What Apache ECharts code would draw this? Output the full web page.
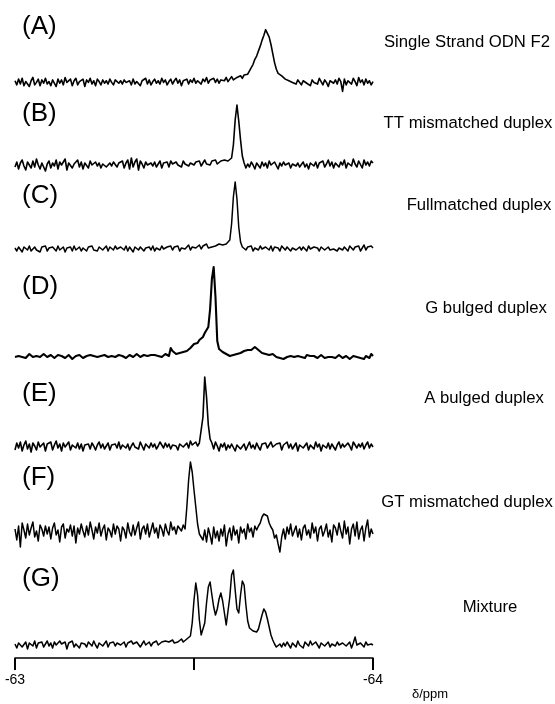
<!DOCTYPE html>
<html>
<head>
<meta charset="utf-8">
<script src="https://cdn.jsdelivr.net/npm/echarts@6/dist/echarts.min.js"></script>
<style>
  html, body { margin: 0; padding: 0; background: #fff; }
  #chart { width: 555px; height: 704px; }
</style>
</head>
<body>
<div id="chart"></div>
<script>
// 19F NMR spectra, sampled every 0.005 ppm from -63 to -64 ppm
var ppmStart = -63;
var ppmStep = 0.005;

var panelTags = ['(A)', '(B)', '(C)', '(D)', '(E)', '(F)', '(G)'];
var sampleNames = ['Single Strand ODN F2', 'TT mismatched duplex', 'Fullmatched duplex',
    'G bulged duplex', 'A bulged duplex', 'GT mismatched duplex', 'Mixture'];

var axisTicks = [-63, -63.5, -64];
var axisTickText = ['-63', '', '-64'];
var axisName = 'δ/ppm';

// intensities (arbitrary units, baseline = 0)
var specA = [
    2, -3, 4, -2, 5, -4, 1, 3, -5, 2, 6, -3, 0, 4, -4, 3, -1, 5, -2, 1,
    -4, 3, 2, -5, 4, -1, 3, -3, 6, 0, -2, 4, -4, 2, 5, -3, 1, -1, 4, -5,
    3, 0, 5, -2, 2, -4, 4, 1, -3, 3, -1, 2, -2, 4, 0, -3, 3, 1, -1, 2,
    -2, 3, 0, -1, 2, -3, 4, -2, 1, 3, -4, 2, 0, 5, -2, 3, -3, 1, 4, -1,
    2, -2, 5, 0, 3, -3, 1, 4, -2, 2, 5, -1, 3, -4, 2, 1, 4, -2, 3, 0,
    5, -1, 2, 3, -2, 4, 1, 6, -1, 3, 2, 5, 0, 4, -1, 3, 5, 2, 6, 1,
    4, 7, 3, 5, 6, 4, 8, 5, 9, 7, 10, 14, 18, 22, 28, 32, 38, 44, 51, 57,
    64, 62, 55, 46, 35, 24, 16, 11, 9, 8, 6, 4, 5, 2, 3, 0, 2, -2, 3, 1,
    -3, 2, 4, -1, 1, -4, 3, 0, 2, -2, 5, 1, -3, 3, 0, -5, 2, 4, -1, 3,
    -2, 5, 1, -11, 4, -3, 2, 3, -2, 5, 1, -4, 6, 0, 3, -3, 4, -1, 2, -3,
    1
];
var specB = [
    -2, 3, -4, 2, 5, -1, -5, 3, 1, -3, 4, -2, 6, 0, -4, 2, 3, -6, 1, 4,
    -3, 2, -1, 5, -4, 3, 0, -2, 6, -5, 2, 4, -3, 1, -1, 5, -2, 3, -4, 2,
    1, -3, 4, 0, -2, 3, -1, 2, -3, 1, 3, -2, 0, 2, -1, 3, 1, -2, 2, 0,
    4, -3, 2, 5, -4, 7, -2, 3, 6, -5, 4, 1, -3, 3, 0, -2, 2, -1, 3, -2,
    1, 4, -3, 2, 0, 3, -2, 4, 1, -1, 3, 0, 2, -2, 4, 1, 3, -1, 2, 4,
    0, 3, 1, 4, -1, 2, 5, 1, 3, 0, 4, 2, 5, 1, 3, 4, 2, 5, 3, 4,
    5, 7, 20, 45, 60, 44, 25, 9, 2, -3, 1, -2, 3, 0, -4, 2, 1, -3, 3, -1,
    2, -3, 4, 0, -2, 3, 1, -4, 2, -1, 3, 0, -2, 2, -3, 1, 3, -1, 2, -2,
    0, 3, -2, 1, -4, 2, 4, -1, 3, -3, 2, 0, 4, -2, 1, 5, -1, 3, -3, 2,
    4, -2, 3, 0, 5, -3, 2, 4, -1, 6, 1, -2, 4, 2, -3, 5, 0, 3, -1, 4,
    2
];
var specC = [
    1, -2, 2, 0, -3, 2, 1, -1, 3, -2, 0, 2, -1, 1, -3, 2, 0, 3, -2, 1,
    -1, 2, 0, -2, 3, -1, 1, 2, -3, 1, 0, 2, -2, 3, -1, 0, 2, -2, 1, 3,
    -2, 2, 0, 3, -1, 1, -2, 2, 4, -1, 0, 3, -2, 2, 1, -1, 3, 0, -2, 2,
    1, -1, 3, -2, 2, 0, -3, 2, 1, -1, 2, 3, -2, 1, 0, 2, -1, 3, -2, 1,
    2, -1, 3, 0, -2, 2, 1, 3, -1, 2, 0, 3, -2, 1, 3, 0, 2, 4, -1, 2,
    3, 1, 2, 4, 0, 3, 2, 5, 1, 3, 2, 4, 3, 2, 5, 3, 4, 3, 5, 6,
    9, 25, 52, 67, 50, 22, 7, 2, 1, -1, 2, 0, 3, -2, 1, 2, -1, 3, 0, -2,
    2, 1, -1, 3, -2, 2, 0, 1, -2, 3, 1, -1, 2, 0, -2, 1, 3, -1, 0, 2,
    -1, 2, 1, -2, 3, 0, -1, 2, 0, 1, -2, 2, 1, -1, 0, 2, -1, 1, 0, 2,
    -2, 1, 3, -1, 2, 0, -2, 3, 1, -1, 2, 0, 3, -2, 1, 4, -1, 2, 0, 3,
    1
];
var specD = [
    0, -1, 1, 2, 0, -2, -1, 1, 3, 1, 0, 2, 1, -1, 0, 1, 3, 2, 0, 1,
    2, 1, -1, 0, 2, 3, 1, 0, -1, 1, 2, 0, -2, -1, 1, 0, 2, 1, -1, 0,
    1, 3, 2, 0, 1, -1, 0, 2, 1, 3, 2, 1, 0, 2, 1, -1, 0, 1, 2, 0,
    1, 0, -1, 1, 2, 1, 0, 2, 3, 1, 0, 1, 2, 0, 1, 3, 2, 1, 2, 0,
    1, 2, 0, 1, 3, 2, 1, 9, 6, 4, 3, 5, 4, 6, 5, 7, 6, 8, 9, 11,
    13, 15, 14, 17, 16, 20, 24, 26, 30, 48, 78, 90, 60, 16, 8, 7, 5, 6, 3, 2,
    1, 0, 2, 1, 3, 2, 4, 5, 6, 5, 7, 8, 7, 9, 10, 9, 7, 6, 4, 5,
    3, 3, 2, 1, 3, 2, 0, 1, -1, 0, -2, -1, 0, -2, 1, -1, 0, 2, 1, -1,
    0, 1, -1, 2, 0, 1, 3, 1, 0, -1, 1, 2, 0, -1, 1, 0, -2, 0, 1, -1,
    0, 2, 1, -1, 0, 1, -1, -2, 0, 1, -1, 0, 2, -1, 0, -2, 1, 0, -1, 3,
    1
];
var specE = [
    -3, 4, -1, 5, -4, 2, 6, -2, 3, -5, 4, 1, -3, 5, 0, -2, 4, -4, 3, 1,
    5, -3, 2, 6, -1, 3, -4, 4, 0, -2, 5, -3, 2, 1, -1, 4, -2, 3, -4, 2,
    0, 3, -2, 4, 1, -3, 2, 5, -1, 3, -2, 1, 4, -3, 2, 0, 3, -1, 5, -2,
    2, 4, -1, 3, -3, 1, 4, 0, 2, -2, 5, 1, -3, 3, 2, -1, 4, 0, 3, -2,
    1, 5, 2, -1, 4, 0, 3, -2, 2, 4, 1, -3, 3, 5, 0, 2, 4, -1, 6, 2,
    3, 5, 1, 4, 6, 30, 70, 50, 22, 8, 4, -2, 5, 1, -4, 3, 0, 4, -3, 2,
    -1, 3, 1, -4, 2, 4, -2, 0, 3, -3, 1, 5, -1, 2, -2, 4, 0, -3, 3, 1,
    4, -1, 2, 5, 0, -2, 3, 1, 4, -3, 2, 0, 5, -1, 3, -2, 1, 4, -4, 2,
    3, -1, 0, 4, -3, 2, 1, -2, 5, 0, 3, -4, 2, 1, -1, 4, -2, 3, 0, -3,
    2, 5, -1, 3, 0, -2, 4, 1, -3, 5, 2, -1, 3, 0, 4, -2, 2, 5, -1, 3,
    0
];
var specF = [
    3, -8, 6, -15, 9, 2, -6, 8, -3, 4, 10, -5, 1, -9, 7, 3, -4, 6, -2, 5,
    -7, 4, 9, -3, 2, -10, 5, 8, -6, 3, 0, 7, -4, 6, -11, 4, -2, 8, 1, -5,
    6, -3, 10, 2, -7, 5, -1, 9, -4, 3, 7, -8, 4, 1, -5, 8, -2, 6, 3, -9,
    5, 2, -6, 9, 0, -4, 7, -3, 4, 10, -7, 3, 6, -2, 8, -5, 2, 9, -1, 4,
    -6, 7, 3, -4, 8, 1, -3, 10, 2, 5, -2, 6, 4, 1, 7, 3, 25, 52, 70, 60,
    42, 25, 8, -2, -5, -8, 2, -10, 4, -3, -12, 5, -6, 1, -9, 3, -4, 7, -14, -2,
    4, -8, 6, -3, 2, -11, 5, -1, 3, -7, 8, 0, 4, -5, 6, 2, 6, 9, 15, 18,
    20, 16, 9, 5, 2, -6, -3, -12, -20, -5, 3, -7, 5, -2, 8, -4, 1, 6, -5, 3,
    -8, 4, 7, -3, 2, -6, 9, -1, 5, -9, 3, 6, -4, 1, 8, -5, 2, -10, 7, 4,
    -3, 9, 1, -6, 11, -2, 5, -12, 3, 8, -4, 10, -7, 2, 6, -9, 4, 12, -5, 3,
    -2
];
var specG = [
    1, -3, 2, 4, -2, 0, 3, -4, 2, 1, -1, 4, -3, 2, 0, 3, -2, 1, 4, -1,
    2, -3, 3, 0, -2, 4, 1, -1, 3, -4, 2, 0, 4, -2, 1, 3, -3, 2, 0, 1,
    -2, 3, 1, -1, 4, 0, -3, 2, 3, -1, 1, 4, -2, 2, 0, 3, -1, 2, 4, 0,
    1, 3, -2, 2, 0, 4, 1, -1, 3, 2, -2, 1, 4, 0, 2, 3, -1, 2, 1, 4,
    0, 2, 3, 1, 4, 2, 3, 1, 5, 2, 4, 3, 5, 6, 3, 4, 6, 7, 9, 22,
    45, 62, 50, 25, 10, 9, 22, 42, 58, 63, 50, 38, 30, 36, 46, 52, 44, 32, 20, 22,
    48, 70, 75, 55, 36, 32, 50, 64, 60, 40, 24, 17, 16, 14, 15, 13, 16, 23, 30, 36,
    33, 26, 18, 10, 5, 1, -2, -3, 1, -2, 2, -1, 3, 0, -3, 2, 1, -2, 4, 0,
    2, -3, 3, 1, -1, 4, 0, -2, 3, 1, -3, 2, 4, -1, 0, 3, -2, 1, 2, -1,
    3, 0, -2, 2, 4, -1, 1, 3, -3, 2, 8, 0, -1, 2, 1, -2, 3, 0, -1, 1,
    0
];

var spectra = [specA, specB, specC, specD, specE, specF, specG];

// layout (pixels)
var baseY = [78, 165, 249, 357, 447, 532, 645];
var tagY = [27, 114, 196, 287, 394, 478, 579];
var nameX = [467, 468, 479, 486, 484, 467, 490];
var nameY = [42, 123, 205, 308, 398, 502, 607];
var traceWidth = [1.6, 1.6, 1.5, 2.1, 1.6, 1.5, 1.5];
var plotLeft = 15, plotRight = 182;
var FONT = '"Liberation Sans", Arial, Helvetica, sans-serif';

function toPairs(vals) {
    return vals.map(function (v, i) {
        return [+(ppmStart - i * ppmStep).toFixed(3), v];
    });
}

var chart = echarts.init(document.getElementById('chart'), null, {renderer: 'canvas'});

var grids = [], xAxes = [], yAxes = [], series = [], texts = [];

for (var k = 0; k < spectra.length; k++) {
    grids.push({left: plotLeft, right: plotRight, top: baseY[k] - 100, height: 125});
    xAxes.push({type: 'value', gridIndex: k, min: -64, max: -63, inverse: true, show: false});
    yAxes.push({type: 'value', gridIndex: k, min: -25, max: 100, show: false});
    series.push({
        type: 'line',
        xAxisIndex: k,
        yAxisIndex: k,
        data: toPairs(spectra[k]),
        symbol: 'none',
        showSymbol: false,
        clip: false,
        silent: true,
        lineStyle: {color: '#000', width: traceWidth[k], join: 'round'}
    });
    texts.push({
        type: 'text', x: 22, y: tagY[k],
        style: {text: panelTags[k], font: '26px ' + FONT, fill: '#000',
            textVerticalAlign: 'middle', verticalAlign: 'middle'}
    });
    texts.push({
        type: 'text', x: nameX[k], y: nameY[k],
        style: {text: sampleNames[k], font: '16.7px ' + FONT, fill: '#000',
            textAlign: 'center', align: 'center',
            textVerticalAlign: 'middle', verticalAlign: 'middle'}
    });
}

// bottom ppm axis
var ai = spectra.length;
grids.push({left: plotLeft, right: plotRight, top: 600, height: 58});
xAxes.push({
    type: 'value', gridIndex: ai, min: -64, max: -63, interval: 0.5, inverse: true,
    position: 'bottom',
    axisLine: {show: true, lineStyle: {color: '#000', width: 1.5}},
    axisTick: {show: true, length: 12, lineStyle: {color: '#000', width: 2}},
    splitLine: {show: false},
    axisLabel: {
        color: '#000', fontSize: 14, fontFamily: FONT, margin: 15,
        formatter: function (v) {
            var j = axisTicks.indexOf(+v.toFixed(1));
            return j < 0 ? '' : axisTickText[j];
        }
    }
});
yAxes.push({type: 'value', gridIndex: ai, show: false});

texts.push({
    type: 'text', x: 430, y: 694,
    style: {text: axisName, font: '13px ' + FONT, fill: '#000',
        textAlign: 'center', align: 'center',
        textVerticalAlign: 'middle', verticalAlign: 'middle'}
});

chart.setOption({
    backgroundColor: '#fff',
    animation: false,
    grid: grids,
    xAxis: xAxes,
    yAxis: yAxes,
    series: series,
    graphic: {elements: texts}
});
</script>
</body>
</html>
